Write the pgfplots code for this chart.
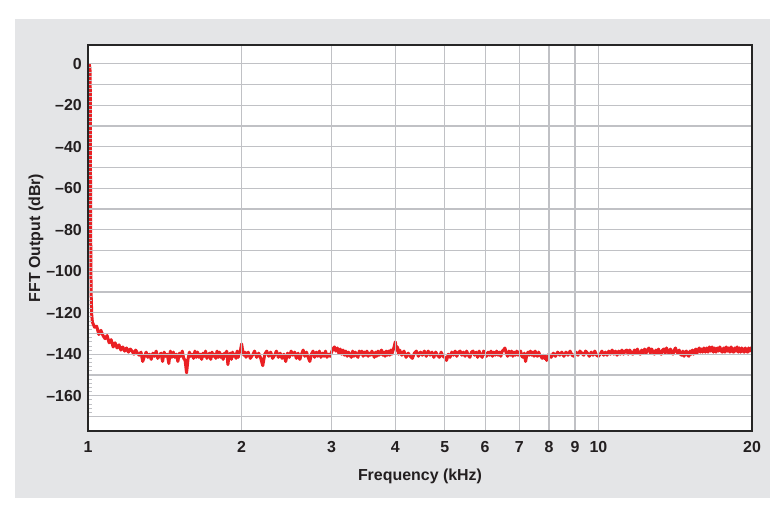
\documentclass[border=0pt]{standalone}
\usepackage{fontspec}
\setmainfont{Liberation Sans}
\usepackage{pgfplots}
\pgfplotsset{compat=1.18}
\usepackage{pgfplotstable}

\definecolor{panel}{RGB}{228,229,231}
\definecolor{gridc}{RGB}{192,193,197}
\definecolor{trace}{RGB}{234,32,36}
\definecolor{ink}{RGB}{35,31,32}

% FFT of a 1 kHz tone: frequency (kHz) and output level (dBr)
\pgfplotstableread{
f dbr
1.006 0.0
1.010 -4.0
1.011 -40.0
1.012 -80.0
1.014 -110.0
1.017 -121.0
1.02 -124.5
1.03 -127.0
1.04 -126.5
1.05 -130.5
1.06 -128.5
1.07 -131.0
1.08 -132.5
1.09 -131.0
1.10 -134.5
1.11 -133.0
1.12 -136.5
1.13 -134.5
1.14 -137.0
1.15 -135.5
1.16 -138.0
1.17 -136.5
1.18 -138.5
1.19 -137.0
1.20 -139.0
1.21 -137.5
1.22 -138.5
1.23 -140.0
1.24 -138.0
1.25 -139.5
1.26 -140.5
1.27 -139.0
1.28 -143.5
1.29 -141.0
1.30 -139.0
1.31 -141.5
1.32 -140.0
1.33 -142.5
1.34 -139.5
1.35 -141.0
1.36 -138.5
1.37 -142.0
1.38 -140.5
1.39 -139.5
1.40 -143.5
1.41 -139.0
1.42 -141.0
1.43 -140.0
1.44 -144.5
1.45 -138.5
1.46 -141.5
1.47 -139.0
1.48 -141.5
1.49 -140.0
1.50 -143.5
1.51 -139.5
1.52 -141.0
1.53 -138.5
1.54 -142.0
1.55 -143.0
1.56 -149.0
1.57 -142.5
1.58 -139.0
1.59 -141.0
1.60 -140.0
1.61 -142.0
1.62 -138.5
1.63 -141.5
1.64 -139.0
1.65 -141.5
1.66 -140.0
1.67 -142.5
1.68 -139.5
1.69 -141.0
1.70 -138.5
1.71 -142.0
1.72 -140.5
1.73 -139.5
1.74 -142.5
1.75 -139.0
1.76 -141.0
1.77 -140.0
1.78 -142.0
1.79 -138.5
1.80 -141.5
1.81 -139.0
1.82 -141.5
1.83 -140.0
1.84 -142.5
1.85 -139.5
1.86 -141.0
1.87 -138.5
1.88 -145.0
1.89 -140.5
1.90 -139.5
1.91 -142.5
1.92 -139.0
1.93 -141.0
1.94 -140.0
1.95 -142.0
1.96 -138.5
1.97 -141.5
1.98 -139.0
1.99 -138.0
2.00 -135.0
2.01 -138.5
2.02 -140.5
2.03 -139.0
2.04 -141.5
2.06 -139.0
2.08 -142.0
2.10 -140.5
2.12 -138.5
2.14 -141.5
2.16 -139.5
2.18 -142.0
2.20 -145.5
2.22 -140.0
2.24 -138.5
2.26 -141.0
2.28 -139.0
2.30 -142.0
2.32 -140.5
2.34 -138.5
2.36 -141.5
2.38 -139.5
2.40 -142.0
2.42 -140.0
2.44 -143.5
2.46 -139.5
2.48 -141.5
2.50 -138.5
2.52 -140.5
2.54 -139.0
2.56 -142.0
2.58 -139.5
2.60 -142.5
2.62 -140.0
2.64 -138.0
2.66 -141.0
2.68 -139.0
2.70 -141.5
2.72 -143.5
2.74 -140.0
2.76 -138.5
2.78 -141.5
2.80 -139.0
2.82 -141.0
2.84 -138.5
2.86 -141.5
2.88 -139.5
2.90 -141.0
2.92 -138.5
2.94 -141.5
2.96 -140.0
2.98 -141.0
3.00 -139.0
3.02 -137.5
3.04 -136.5
3.06 -138.5
3.08 -137.0
3.10 -139.5
3.12 -137.5
3.14 -140.0
3.16 -138.0
3.18 -140.5
3.20 -138.5
3.22 -141.0
3.24 -139.0
3.26 -140.5
3.28 -141.5
3.30 -138.5
3.32 -141.0
3.34 -139.0
3.36 -140.5
3.38 -141.5
3.40 -138.5
3.42 -140.0
3.44 -138.5
3.46 -141.0
3.48 -139.0
3.50 -140.5
3.52 -138.5
3.54 -141.0
3.56 -139.5
3.58 -140.5
3.60 -138.5
3.62 -140.0
3.64 -141.5
3.66 -139.0
3.68 -141.0
3.70 -138.5
3.72 -140.5
3.74 -139.0
3.76 -138.0
3.78 -140.5
3.80 -139.0
3.82 -141.0
3.84 -138.5
3.86 -140.5
3.88 -138.5
3.90 -140.5
3.92 -138.0
3.94 -140.0
3.96 -138.0
3.98 -136.5
4.00 -134.0
4.02 -138.0
4.04 -136.5
4.06 -140.0
4.08 -138.0
4.12 -140.5
4.16 -138.5
4.20 -141.5
4.24 -139.5
4.28 -141.0
4.32 -142.0
4.36 -139.5
4.40 -138.5
4.44 -141.0
4.48 -139.0
4.52 -140.5
4.56 -138.5
4.60 -141.0
4.64 -138.5
4.68 -140.5
4.72 -139.0
4.76 -141.5
4.80 -139.0
4.84 -140.5
4.88 -141.5
4.92 -139.0
4.96 -141.0
5.00 -141.5
5.04 -143.0
5.08 -140.0
5.12 -141.5
5.16 -139.0
5.20 -140.5
5.24 -138.5
5.28 -141.0
5.32 -139.0
5.36 -138.5
5.40 -140.5
5.44 -139.0
5.48 -141.0
5.52 -138.5
5.56 -140.5
5.60 -141.5
5.64 -139.0
5.68 -138.5
5.72 -140.5
5.76 -139.0
5.80 -141.5
5.84 -138.5
5.88 -140.5
5.92 -141.5
5.96 -138.5
6.00 -139.5
6.04 -141.0
6.08 -139.0
6.12 -140.5
6.16 -138.5
6.20 -141.0
6.24 -139.0
6.28 -140.5
6.32 -138.5
6.36 -140.5
6.40 -139.0
6.44 -141.0
6.48 -138.5
6.52 -138.0
6.56 -137.0
6.60 -139.5
6.64 -141.0
6.68 -138.5
6.72 -140.5
6.76 -138.5
6.80 -141.0
6.84 -139.0
6.88 -140.5
6.92 -138.5
6.96 -140.5
7.00 -139.0
7.04 -138.5
7.08 -141.0
7.12 -141.5
7.16 -139.5
7.20 -143.5
7.24 -140.5
7.28 -139.0
7.32 -140.5
7.36 -138.5
7.40 -140.5
7.44 -139.0
7.48 -141.0
7.52 -138.5
7.56 -140.5
7.60 -141.0
7.64 -139.0
7.68 -140.5
7.72 -141.0
7.76 -142.0
7.80 -140.5
7.84 -142.0
7.88 -141.0
7.92 -143.0
7.96 -141.0
8.00 -140.0
8.08 -141.5
8.16 -139.5
8.24 -141.0
8.32 -139.0
8.40 -140.5
8.48 -139.0
8.56 -141.0
8.64 -139.0
8.72 -140.5
8.80 -138.5
8.88 -140.5
8.96 -141.0
9.04 -139.0
9.12 -140.5
9.20 -138.5
9.28 -139.5
9.36 -140.5
9.44 -138.5
9.52 -139.5
9.60 -141.0
9.68 -139.0
9.76 -140.5
9.84 -138.5
9.92 -140.5
10.00 -141.0
10.08 -140.0
10.16 -138.5
10.24 -140.5
10.32 -139.0
10.40 -140.5
10.48 -138.5
10.56 -140.0
10.64 -138.0
10.72 -140.0
10.80 -138.5
10.88 -140.5
10.96 -138.5
11.04 -140.0
11.12 -138.0
11.20 -140.0
11.28 -138.5
11.36 -138.0
11.44 -140.0
11.52 -138.0
11.60 -139.5
11.68 -140.0
11.76 -138.0
11.84 -139.5
11.92 -137.5
12.00 -139.5
12.08 -140.0
12.16 -138.0
12.24 -139.5
12.32 -137.5
12.40 -139.5
12.48 -138.0
12.56 -137.0
12.64 -139.5
12.72 -137.5
12.80 -139.0
12.88 -140.0
12.96 -138.0
13.04 -139.5
13.12 -137.5
13.20 -139.5
13.28 -140.0
13.36 -138.0
13.44 -137.5
13.52 -139.5
13.60 -137.0
13.68 -139.0
13.76 -139.5
13.84 -137.5
13.92 -139.0
14.00 -140.0
14.08 -138.0
14.16 -137.0
14.24 -139.0
14.32 -139.5
14.40 -138.0
14.48 -140.0
14.56 -140.5
14.64 -138.5
14.72 -141.0
14.80 -139.0
14.88 -138.5
14.96 -140.5
15.04 -141.0
15.12 -138.5
15.20 -140.0
15.28 -138.0
15.36 -140.0
15.44 -138.5
15.52 -137.5
15.60 -139.5
15.68 -138.0
15.76 -137.0
15.84 -139.0
15.92 -137.5
16.00 -139.0
16.1 -137.0
16.2 -139.0
16.3 -137.0
16.4 -139.0
16.5 -136.5
16.6 -138.5
16.7 -136.5
16.8 -139.0
16.9 -137.0
17.0 -139.0
17.1 -137.0
17.2 -138.5
17.3 -136.5
17.4 -138.5
17.5 -139.0
17.6 -137.0
17.7 -139.0
17.8 -136.5
17.9 -138.5
18.0 -137.0
18.1 -139.0
18.2 -136.5
18.3 -138.5
18.4 -139.0
18.5 -137.0
18.6 -138.5
18.7 -136.5
18.8 -139.0
18.9 -137.0
19.0 -139.0
19.1 -137.0
19.2 -138.5
19.3 -139.0
19.4 -137.0
19.5 -138.5
19.6 -139.0
19.7 -137.0
19.8 -138.5
19.9 -137.0
20.0 -138.0
}\fftdata

\begin{document}
\begin{tikzpicture}[x=1bp,y=1bp]
  \fill[white] (0,0) rectangle (770,510);
  \fill[panel] (15,12) rectangle (770,491);
  \begin{axis}[
    at={(88bp,79bp)}, anchor=south west,
    scale only axis, width=664bp, height=386bp,
    xmode=log, xmin=1, xmax=20,
    ymin=-177, ymax=9,
    axis background/.style={fill=white},
    axis line style={line width=1.8bp, color=black!85},
    axis on top,
    xtick={1,2,3,4,5,6,7,8,9,10,20},
    xticklabels={1,2,3,4,5,6,7,8,9,10,20},
    xminorticks=false,
    ytick={-170,-160,...,0},
    yticklabels={,–160,,–140,,–120,,–100,,–80,,–60,,–40,,–20,,0},
    minor y tick num=4,
    ytick pos=left, xtick pos=bottom,
    tick align=inside,
    major tick length=0pt,
    minor tick length=4bp,
    minor tick style={gridc, line width=0.8bp},
    grid=major,
    major grid style={gridc, line width=1.3bp},
    minor grid style={draw=none},
    tick label style={font=\fontsize{16}{19}\selectfont\bfseries, text=ink, inner sep=0pt},
    xticklabel style={anchor=north, yshift=-10.5bp},
    yticklabel style={anchor=east, xshift=-6bp},
    label style={font=\fontsize{16}{19}\selectfont\bfseries, text=ink},
    xlabel={Frequency (kHz)},
    xlabel style={at={(axis description cs:0.5,-0.1184)}, anchor=center},
    ylabel={FFT Output (dBr)},
    ylabel style={at={(axis description cs:-0.0783,0.5)}, anchor=center},
  ]
    \addplot[trace, line width=3bp, line join=round] table[x=f, y=dbr] {\fftdata};
  \end{axis}
\end{tikzpicture}
\end{document}
